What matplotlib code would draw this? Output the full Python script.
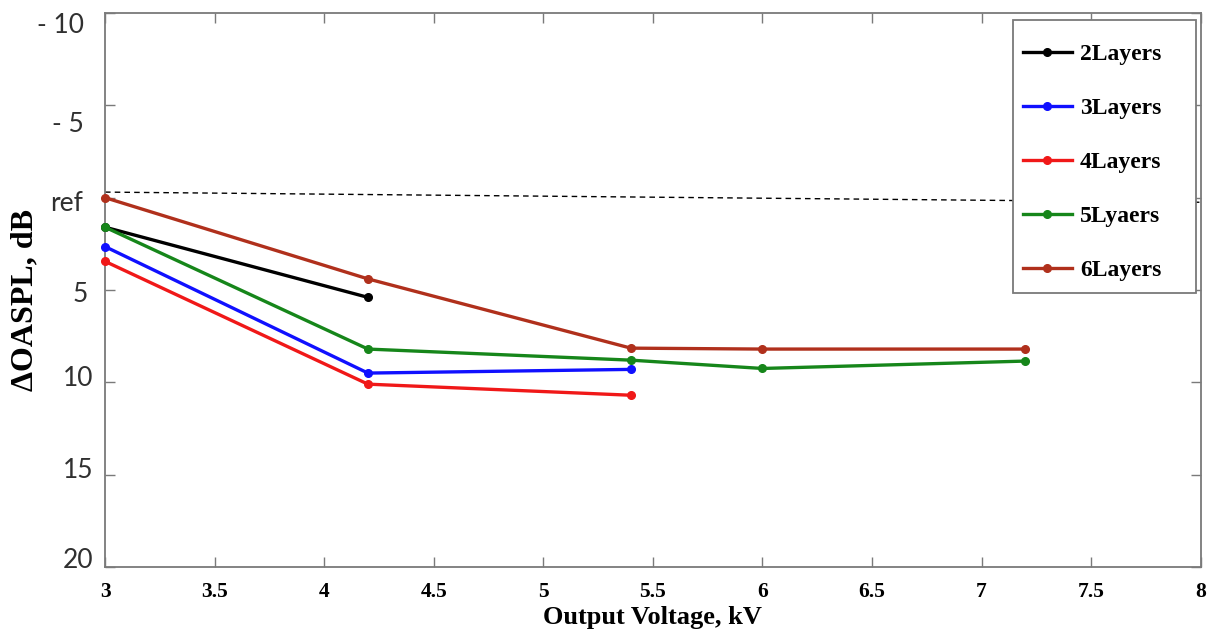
"""Delta OASPL vs output voltage for plasma actuators with different layer counts."""

import matplotlib

matplotlib.use("Agg")
import matplotlib.pyplot as plt
from matplotlib.patches import Rectangle
from matplotlib.transforms import ScaledTranslation

# Output voltage (kV) and Delta OASPL (dB, positive = quieter) per layer count
volts_2 = [3.0, 4.2]
oaspl_2 = [1.6, 5.4]

volts_3 = [3.0, 4.2, 5.4]
oaspl_3 = [2.65, 9.5, 9.3]

volts_4 = [3.0, 4.2, 5.4]
oaspl_4 = [3.45, 10.1, 10.7]

volts_5 = [3.0, 4.2, 5.4, 6.0, 7.2]
oaspl_5 = [1.6, 8.2, 8.8, 9.25, 8.85]

volts_6 = [3.0, 4.2, 5.4, 6.0, 7.2]
oaspl_6 = [0.0, 4.4, 8.15, 8.2, 8.2]

series_labels = ["2Layers", "3Layers", "4Layers", "5Lyaers", "6Layers"]
series_colors = ["#000000", "#1010ff", "#f01818", "#16861a", "#b0301c"]

# hand-drawn reference line
ref_x = [3.0, 8.0]
ref_y = [-0.3, 0.25]

y_ticks = [-10, -5, 0, 5, 10, 15, 20]
y_tick_labels = ["- 10", "- 5", "ref", "5", "10", "15", "20"]
x_ticks = [3, 3.5, 4, 4.5, 5, 5.5, 6, 6.5, 7, 7.5, 8]
x_tick_labels = ["3", "3.5", "4", "4.5", "5", "5.5", "6", "6.5", "7", "7.5", "8"]

# the y labels in the source were placed by hand, so they sit a little off
# their ticks (pixels: right, down)
y_label_nudge = [(-9, 10), (-9, 17), (-10, 3), (-5, 2), (1, -6), (1, -7), (1, -9)]

SERIF = "Liberation Serif"
SANS = "Lato"
SPINE = "#7a7a7a"

fig = plt.figure(figsize=(12.14, 6.39), dpi=100)
ax = fig.add_axes([0.0865, 0.1127, 0.9025, 0.867])

ax.plot(ref_x, ref_y, color="black", linestyle=(0, (4, 3)), linewidth=1.0, zorder=1)

all_series = [
    (volts_2, oaspl_2),
    (volts_3, oaspl_3),
    (volts_4, oaspl_4),
    (volts_5, oaspl_5),
    (volts_6, oaspl_6),
]
for (xs, ys), label, color in zip(all_series, series_labels, series_colors):
    ax.plot(xs, ys, color=color, linewidth=2.4, marker="o", markersize=5.5,
            label=label, zorder=3, clip_on=False)

ax.set_xlim(3, 8)
ax.set_ylim(20, -10)

ax.set_xticks(x_ticks)
ax.set_xticklabels(x_tick_labels, fontfamily=SERIF, fontweight="bold", fontsize=15.5)
ax.set_yticks(y_ticks)
ax.set_yticklabels(y_tick_labels, fontfamily=SANS, fontsize=19, color="#303030")

ax.tick_params(axis="both", direction="in", length=7, width=1.0, color=SPINE,
               top=True, right=True)
ax.tick_params(axis="x", pad=10.5)
ax.tick_params(axis="y", pad=9)

for label, (dx, dy) in zip(ax.get_yticklabels(), y_label_nudge):
    shift = ScaledTranslation(dx / 100, -dy / 100, fig.dpi_scale_trans)
    label.set_transform(label.get_transform() + shift)

for spine in ax.spines.values():
    spine.set_color(SPINE)
    spine.set_linewidth(1.3)

ax.set_xlabel("Output Voltage, kV", fontfamily=SERIF, fontweight="bold", fontsize=19)
ax.xaxis.set_label_coords(0.5, -0.0705)
ax.set_ylabel("\u0394OASPL, dB", fontfamily=SERIF, fontweight="bold", fontsize=23)
ax.yaxis.set_label_coords(-0.060, 0.482)

# legend frame drawn separately so its padding can match the original
ax.add_patch(Rectangle((0.8285, 0.4946), 0.167, 0.4928, transform=ax.transAxes,
                       facecolor="white", edgecolor=SPINE, linewidth=1.3,
                       zorder=4, clip_on=False))
legend = ax.legend(
    loc="upper left",
    bbox_to_anchor=(0.8376, 0.9442),
    prop={"family": SERIF, "weight": "bold", "size": 17},
    frameon=False,
    labelspacing=1.37,
    handlelength=2.08,
    handletextpad=0.34,
    borderpad=0.0,
    borderaxespad=0.0,
)
legend.set_zorder(5)

fig.savefig("out.png", dpi=100, facecolor="white")
plt.close(fig)
